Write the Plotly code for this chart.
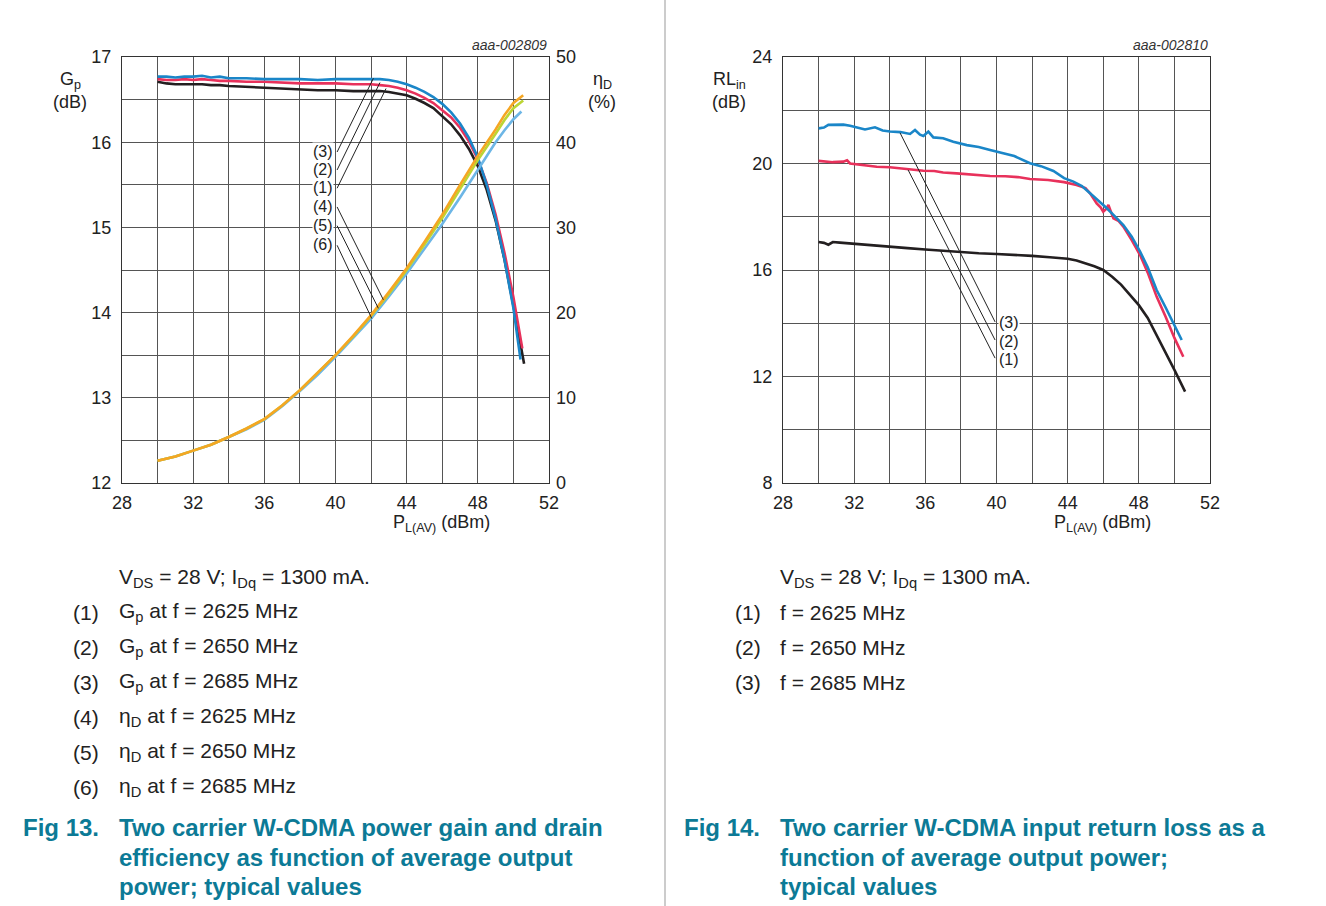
import plotly.graph_objects as go

W, H = 1326, 906

# ---------------- Data: Fig 13 (Gp and eta_D vs PL(AV)) ----------------
gp_x = [30, 30.5, 31, 31.5, 32, 32.5, 33, 33.5, 34, 35, 36, 37, 38, 39, 40, 41, 42, 42.5,
        43, 43.5, 44, 44.5, 45, 45.5, 46, 46.5, 47, 47.5, 48, 48.5, 49, 49.5, 50]
gp3_x = gp_x + [50.4]
gp3 = [16.77, 16.77, 16.76, 16.77, 16.77, 16.78, 16.76, 16.77, 16.75, 16.75, 16.74, 16.74,
       16.74, 16.73, 16.74, 16.74, 16.74, 16.74, 16.73, 16.71, 16.68, 16.64, 16.59, 16.53,
       16.45, 16.35, 16.22, 16.05, 15.82, 15.50, 15.10, 14.62, 14.05, 13.45]
gp2_x = gp_x + [50.5]
gp2 = [16.74, 16.73, 16.73, 16.74, 16.73, 16.74, 16.73, 16.72, 16.72, 16.71, 16.71, 16.70,
       16.69, 16.69, 16.69, 16.68, 16.68, 16.67, 16.66, 16.64, 16.61, 16.57, 16.52, 16.46,
       16.38, 16.29, 16.17, 16.01, 15.80, 15.52, 15.15, 14.70, 14.18, 13.58]
gp1_x = gp_x + [50.6]
gp1 = [16.71, 16.69, 16.68, 16.68, 16.68, 16.68, 16.67, 16.67, 16.66, 16.65, 16.64, 16.63,
       16.62, 16.61, 16.61, 16.60, 16.60, 16.60, 16.59, 16.57, 16.55, 16.51, 16.46, 16.40,
       16.31, 16.21, 16.08, 15.92, 15.72, 15.44, 15.08, 14.62, 14.08, 13.40]

eta_x = [30, 31, 32, 33, 34, 35, 36, 37, 38, 39, 40, 41, 42, 43, 44, 45, 46, 47, 48, 49, 49.5, 50]
eta4_x = eta_x + [50.55]
eta4 = [2.6, 3.1, 3.8, 4.5, 5.4, 6.4, 7.5, 9.1, 10.9, 12.9, 15.0, 17.3, 19.7, 22.4, 25.2,
        28.3, 31.5, 35.0, 38.4, 41.5, 43.2, 44.6, 45.5]
eta5_x = eta_x + [50.55]
eta5 = [2.6, 3.1, 3.8, 4.5, 5.4, 6.4, 7.5, 9.1, 10.9, 12.9, 15.0, 17.2, 19.6, 22.2, 25.0,
        28.0, 31.1, 34.5, 37.9, 41.0, 42.6, 44.0, 44.9]
eta6_x = eta_x + [50.45]
eta6 = [2.6, 3.1, 3.8, 4.5, 5.4, 6.3, 7.4, 9.0, 10.8, 12.7, 14.8, 17.0, 19.3, 21.9, 24.6,
        27.5, 30.4, 33.5, 36.8, 40.0, 41.4, 42.7, 43.6]

# ---------------- Data: Fig 14 (RLin vs PL(AV)) ----------------
rl3_x = [30, 30.3, 30.55, 31, 31.4, 31.77, 32.2, 32.61, 33.17, 33.6, 34.01, 34.6, 35.14,
         35.42, 35.7, 35.89, 36.17, 36.45, 37.0, 37.57, 38.33, 39.0, 39.64, 40.5, 41.0,
         41.88, 42.5, 43.2, 43.8, 44.32, 44.8, 45.26, 45.7, 46.2, 46.6, 47.13, 47.6, 48.07,
         48.5, 49.0, 49.5, 50.0, 50.41]
rl3 = [21.32, 21.35, 21.45, 21.46, 21.46, 21.42, 21.36, 21.28, 21.36, 21.24, 21.20, 21.18,
       21.11, 21.26, 21.08, 21.03, 21.20, 20.98, 20.95, 20.82, 20.69, 20.62, 20.51, 20.35,
       20.28, 20.01, 19.90, 19.72, 19.45, 19.32, 19.15, 18.88, 18.62, 18.32, 18.05, 17.69,
       17.25, 16.69, 16.10, 15.25, 14.60, 13.95, 13.37]
rl2_x = [30, 30.8, 31.39, 31.6, 31.77, 32.5, 33.27, 34, 34.8, 35.89, 36.5, 37.0, 37.76,
         38.4, 39.64, 40.5, 41.2, 41.88, 42.9, 43.8, 44.5, 45.0, 45.26, 45.63, 45.85, 46.0,
         46.15, 46.29, 46.57, 46.85, 47.13, 47.6, 48.07, 48.5, 49.0, 49.5, 50.0, 50.5]
rl2 = [20.10, 20.05, 20.07, 20.12, 20.00, 19.95, 19.88, 19.86, 19.80, 19.73, 19.72, 19.66,
       19.63, 19.60, 19.53, 19.52, 19.49, 19.42, 19.38, 19.30, 19.19, 19.08, 18.88, 18.50,
       18.35, 18.19, 18.28, 18.44, 17.94, 17.85, 17.63, 17.12, 16.56, 15.90, 15.00, 14.25,
       13.45, 12.74]
rl1_x = [30, 30.3, 30.55, 30.8, 31.2, 32, 33, 34, 35, 36, 37, 38, 39, 40, 41, 42, 43, 44,
         44.5, 45, 45.5, 46, 46.5, 47, 47.5, 48, 48.5, 49, 49.5, 50, 50.6]
rl1 = [17.05, 17.02, 16.95, 17.05, 17.03, 16.98, 16.92, 16.87, 16.82, 16.77, 16.72, 16.67,
       16.63, 16.60, 16.57, 16.53, 16.48, 16.42, 16.36, 16.26, 16.14, 16.00, 15.75, 15.45,
       15.08, 14.68, 14.20, 13.55, 12.95, 12.25, 11.43]

x_ticks = list(range(28, 53, 2))
x_text = [str(v) if v % 4 == 0 else "" for v in x_ticks]
gp_ticks = [12 + 0.5 * i for i in range(11)]
gp_text = [str(int(v)) if v == int(v) else "" for v in gp_ticks]
eta_ticks = [0, 10, 20, 30, 40, 50]
rl_ticks = list(range(8, 25, 2))
rl_text = [str(v) if v % 4 == 0 else "" for v in rl_ticks]

BLACK = "#231f20"
RED = "#e8315b"
BLUE = "#1a86c8"
ORANGE = "#f5a623"
GREEN = "#bcd534"
LBLUE = "#6db6e6"
TEAL = "#0c7a96"
FONT = "Arial, Liberation Sans, sans-serif"
LW = 2.6


def px(x):
    return x / W


def py(y):
    return 1 - y / H


fig = go.Figure()

for xs, ys, c in [(eta6_x, eta6, LBLUE), (eta5_x, eta5, GREEN), (eta4_x, eta4, ORANGE)]:
    fig.add_trace(go.Scatter(x=xs, y=ys, mode="lines", line=dict(color=c, width=LW),
                             xaxis="x", yaxis="y2", showlegend=False))
for xs, ys, c in [(gp1_x, gp1, BLACK), (gp2_x, gp2, RED), (gp3_x, gp3, BLUE)]:
    fig.add_trace(go.Scatter(x=xs, y=ys, mode="lines", line=dict(color=c, width=LW),
                             xaxis="x", yaxis="y", showlegend=False))
for xs, ys, c in [(rl1_x, rl1, BLACK), (rl2_x, rl2, RED), (rl3_x, rl3, BLUE)]:
    fig.add_trace(go.Scatter(x=xs, y=ys, mode="lines", line=dict(color=c, width=LW),
                             xaxis="x3", yaxis="y3", showlegend=False))

GRID = "#555555"
axis_common = dict(showgrid=True, gridcolor=GRID, gridwidth=1, zeroline=False,
                   showline=True, linecolor="#333333", linewidth=1, mirror=True,
                   ticks="", automargin=False, tickfont=dict(family=FONT, size=18, color="#222"))

fig.update_layout(
    width=W, height=H, autosize=False, margin=dict(l=0, r=0, t=0, b=0, pad=0),
    paper_bgcolor="white", plot_bgcolor="white", showlegend=False,
    xaxis=dict(domain=[px(122), px(549)], range=[28, 52], tickvals=x_ticks, ticktext=x_text,
               anchor="y", ticklabelstandoff=3, **axis_common),
    yaxis=dict(domain=[py(483), py(57)], range=[12, 17], tickvals=gp_ticks, ticktext=gp_text,
               anchor="x", ticklabelstandoff=6, **axis_common),
    yaxis2=dict(overlaying="y", side="right", range=[0, 50], tickvals=eta_ticks,
                showgrid=False, zeroline=False, showline=False, ticks="", anchor="x",
                automargin=False, ticklabelstandoff=6,
                tickfont=dict(family=FONT, size=18, color="#222")),
    xaxis3=dict(domain=[px(783), px(1210)], range=[28, 52], tickvals=x_ticks, ticktext=x_text,
                anchor="y3", ticklabelstandoff=3, **axis_common),
    yaxis3=dict(domain=[py(483), py(57)], range=[8, 24], tickvals=rl_ticks, ticktext=rl_text,
                anchor="x3", ticklabelstandoff=6, **axis_common),
)

anns = []


def text(x, y, s, size=18, xanchor="center", color="#222", bold=False, bg=None):
    d = dict(x=px(x), y=py(y), xref="paper", yref="paper", text=s, showarrow=False,
             xanchor=xanchor, yanchor="middle",
             font=dict(family=FONT, size=size, color=color, weight="bold" if bold else "normal"))
    if bg:
        d["bgcolor"] = bg
        d["borderpad"] = 0
    anns.append(d)


text(70, 80, "G<sub>p</sub>")
text(70, 102, "(dB)")
text(602, 80, "η<sub>D</sub>")
text(602, 102, "(%)")
text(729, 80, "RL<sub>in</sub>")
text(729, 102, "(dB)")
text(441, 523, "P<sub>L(AV)</sub> (dBm)")
text(1102, 523, "P<sub>L(AV)</sub> (dBm)")
text(549, 45, "<i>aaa-002809</i>", size=14, xanchor="right", color="#333")
text(1210, 45, "<i>aaa-002810</i>", size=14, xanchor="right", color="#333")

shapes = []
leaders13 = [((40.09, 15.885), (42.13, 16.75)), ((40.09, 15.674), (42.50, 16.70)),
             ((40.09, 15.46), (42.84, 16.63)), ((40.09, 15.24), (42.69, 14.15)),
             ((40.09, 15.02), (42.41, 14.05)), ((40.09, 14.79), (42.04, 13.93))]
for (x0, y0), (x1, y1) in leaders13:
    shapes.append(dict(type="line", xref="x", yref="y", x0=x0, y0=y0, x1=x1, y1=y1,
                       line=dict(color="#222", width=1)))
for lab, yy in zip(["(3)", "(2)", "(1)", "(4)", "(5)", "(6)"], [152, 170, 188, 207, 226, 245]):
    text(323, yy, lab, size=16, bg="white")

leaders14 = [((39.92, 14.05), (34.58, 21.15)), ((39.92, 13.37), (35.03, 19.76)),
             ((39.92, 12.69), (36.83, 16.75))]
for (x0, y0), (x1, y1) in leaders14:
    shapes.append(dict(type="line", xref="x3", yref="y3", x0=x0, y0=y0, x1=x1, y1=y1,
                       line=dict(color="#222", width=1)))
for lab, yy in zip(["(3)", "(2)", "(1)"], [323, 341, 359]):
    text(1009, yy, lab, size=16, bg="white")

shapes.append(dict(type="line", xref="paper", yref="paper", x0=px(665), x1=px(665), y0=0, y1=1,
                   line=dict(color="#999", width=1)))

BODY = 21
text(117, 578, "V<sub>DS</sub> = 28 V; I<sub>Dq</sub> = 1300 mA.", size=BODY, xanchor="left")
items13 = ["G<sub>p</sub> at f = 2625 MHz", "G<sub>p</sub> at f = 2650 MHz",
           "G<sub>p</sub> at f = 2685 MHz", "η<sub>D</sub> at f = 2625 MHz",
           "η<sub>D</sub> at f = 2650 MHz", "η<sub>D</sub> at f = 2685 MHz"]
for i, s in enumerate(items13):
    yy = 612 + i * 35
    text(71, yy, "(%d)" % (i + 1), size=BODY, xanchor="left")
    text(117, yy, s, size=BODY, xanchor="left")
CAP = 24
text(21, 827, "Fig 13.", size=CAP, xanchor="left", color=TEAL, bold=True)
for s, yy in zip(["Two carrier W-CDMA power gain and drain",
                  "efficiency as function of average output",
                  "power; typical values"], [827, 857, 886]):
    text(117, yy, s, size=CAP, xanchor="left", color=TEAL, bold=True)

text(778, 578, "V<sub>DS</sub> = 28 V; I<sub>Dq</sub> = 1300 mA.", size=BODY, xanchor="left")
items14 = ["f = 2625 MHz", "f = 2650 MHz", "f = 2685 MHz"]
for i, s in enumerate(items14):
    yy = 612 + i * 35
    text(733, yy, "(%d)" % (i + 1), size=BODY, xanchor="left")
    text(778, yy, s, size=BODY, xanchor="left")
text(682, 827, "Fig 14.", size=CAP, xanchor="left", color=TEAL, bold=True)
for s, yy in zip(["Two carrier W-CDMA input return loss as a",
                  "function of average output power;",
                  "typical values"], [827, 857, 886]):
    text(778, yy, s, size=CAP, xanchor="left", color=TEAL, bold=True)

fig.update_layout(annotations=anns, shapes=shapes)
fig.write_html("out.html", config={"displayModeBar": False},
               post_script="document.body.style.margin='0px';"
                           "document.body.style.overflow='hidden';")
